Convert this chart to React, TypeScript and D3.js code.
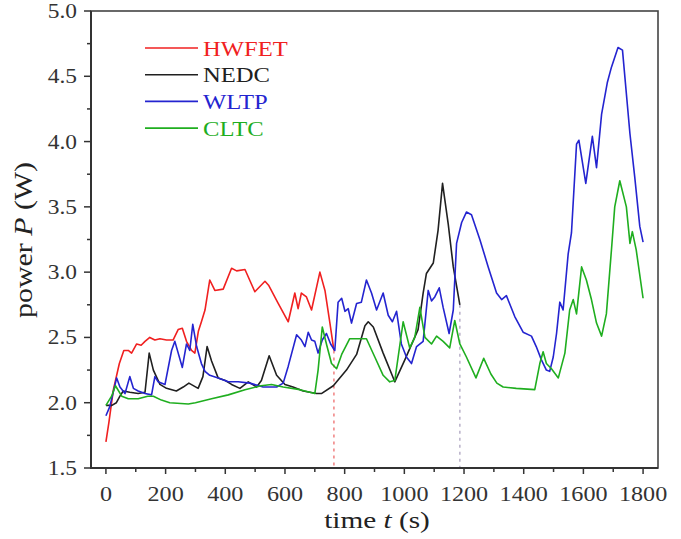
import React from "react";
import * as d3 from "d3";

type Pt = [number, number];

const hwfet: Pt[] = [[0,1.70],[10,1.85],[25,2.1],[45,2.3],[60,2.4],[75,2.40],[86,2.38],[103,2.45],[118,2.44],[131,2.47],[147,2.50],[164,2.48],[181,2.49],[203,2.48],[225,2.48],[242,2.56],[256,2.57],[270,2.47],[287,2.40],[298,2.38],[310,2.55],[320,2.62],[332,2.71],[348,2.94],[365,2.86],[393,2.87],[421,3.03],[438,3.01],[466,3.02],[499,2.85],[533,2.93],[545,2.90],[575,2.77],[611,2.62],[633,2.84],[644,2.72],[655,2.84],[672,2.81],[689,2.71],[717,3.00],[734,2.86],[750,2.62],[764,2.40]];

const nedc: Pt[] = [[0,1.98],[20,1.98],[35,2.0],[47,2.05],[58,2.09],[80,2.08],[108,2.07],[131,2.08],[145,2.38],[159,2.25],[181,2.14],[203,2.11],[236,2.09],[259,2.12],[278,2.15],[309,2.11],[325,2.2],[339,2.43],[354,2.32],[376,2.19],[400,2.17],[421,2.14],[449,2.11],[477,2.16],[505,2.12],[521,2.17],[547,2.36],[572,2.21],[600,2.14],[627,2.12],[661,2.09],[706,2.07],[722,2.07],[762,2.13],[806,2.25],[840,2.37],[868,2.59],[879,2.62],[896,2.58],[929,2.38],[968,2.16],[1002,2.33],[1046,2.56],[1063,2.84],[1074,2.99],[1097,3.07],[1113,3.32],[1128,3.68],[1147,3.37],[1164,3.04],[1186,2.75]];

const wltp: Pt[] = [[0,1.90],[13,1.97],[36,2.19],[47,2.12],[64,2.07],[80,2.20],[92,2.11],[108,2.09],[131,2.07],[153,2.06],[164,2.20],[175,2.16],[198,2.14],[220,2.40],[231,2.47],[256,2.27],[270,2.45],[281,2.40],[291,2.60],[304,2.43],[320,2.30],[332,2.24],[348,2.21],[376,2.19],[410,2.16],[443,2.16],[482,2.15],[527,2.12],[572,2.12],[594,2.15],[611,2.28],[639,2.52],[655,2.48],[667,2.43],[678,2.54],[689,2.48],[700,2.47],[711,2.38],[725,2.48],[739,2.53],[753,2.45],[767,2.40],[778,2.77],[790,2.80],[801,2.70],[812,2.72],[823,2.61],[840,2.76],[856,2.77],[873,2.94],[890,2.84],[907,2.71],[929,2.84],[946,2.67],[960,2.62],[974,2.70],[990,2.45],[1007,2.35],[1024,2.30],[1041,2.43],[1063,2.47],[1080,2.86],[1091,2.78],[1102,2.81],[1117,2.88],[1130,2.73],[1150,2.53],[1164,2.71],[1175,3.22],[1192,3.38],[1208,3.46],[1225,3.44],[1253,3.25],[1281,3.04],[1309,2.84],[1326,2.79],[1342,2.82],[1370,2.66],[1398,2.54],[1426,2.51],[1442,2.43],[1459,2.33],[1476,2.25],[1487,2.24],[1499,2.35],[1510,2.53],[1521,2.77],[1532,2.71],[1549,3.14],[1560,3.30],[1577,3.98],[1585,4.01],[1608,3.68],[1630,4.04],[1644,3.80],[1661,4.21],[1680,4.45],[1694,4.57],[1716,4.72],[1731,4.70],[1756,4.06],[1772,3.73],[1789,3.35],[1800,3.23]];

const cltc: Pt[] = [[0,1.98],[19,2.05],[32,2.13],[53,2.05],[75,2.03],[108,2.03],[140,2.05],[159,2.05],[186,2.02],[214,2.0],[276,1.99],[300,2.0],[354,2.03],[410,2.06],[466,2.10],[520,2.13],[555,2.14],[594,2.12],[650,2.10],[700,2.07],[711,2.25],[725,2.58],[740,2.44],[756,2.30],[773,2.26],[790,2.37],[817,2.49],[851,2.49],[873,2.49],[901,2.35],[929,2.21],[951,2.16],[968,2.17],[996,2.62],[1018,2.42],[1035,2.5],[1052,2.73],[1069,2.50],[1091,2.45],[1108,2.51],[1130,2.47],[1152,2.42],[1169,2.63],[1186,2.45],[1208,2.35],[1240,2.19],[1266,2.34],[1290,2.22],[1310,2.15],[1331,2.12],[1375,2.11],[1437,2.10],[1454,2.30],[1465,2.39],[1476,2.30],[1493,2.26],[1516,2.19],[1538,2.38],[1554,2.71],[1566,2.79],[1577,2.68],[1594,3.04],[1610,2.94],[1627,2.79],[1644,2.61],[1661,2.51],[1677,2.68],[1694,3.17],[1705,3.50],[1722,3.70],[1744,3.50],[1756,3.22],[1764,3.31],[1777,3.17],[1800,2.80]];

const seriesNames = ["HWFET", "NEDC", "WLTP", "CLTC"];
const seriesData = [hwfet, nedc, wltp, cltc];
const seriesColors = ["#f02020", "#202020", "#2424d0", "#1fae1f"];

const xTicks = [0, 200, 400, 600, 800, 1000, 1200, 1400, 1600, 1800];
const xMinor = [100, 300, 500, 700, 900, 1100, 1300, 1500, 1700];
const yTicks = [1.5, 2.0, 2.5, 3.0, 3.5, 4.0, 4.5, 5.0];
const yMinor = [1.75, 2.25, 2.75, 3.25, 3.75, 4.25, 4.75];

const W = 681, H = 539;
const L = 91, R = 658, T = 11, B = 468;
const FONT = "'Liberation Serif', 'Times New Roman', serif";

export default function App() {
  const x = d3.scaleLinear().domain([-50, 1850]).range([L, R]);
  const y = d3.scaleLinear().domain([1.5, 5.0]).range([B, T]);
  const line = d3.line<Pt>().x((d) => x(d[0])).y((d) => y(d[1]));

  const markers = [
    { s: hwfet, color: "#f08080" },
    { s: nedc, color: "#b8b0c8" },
  ];

  return (
    <svg width={W} height={H} style={{ position: "absolute", left: 0, top: 0, background: "#fff" }}>
      <rect x={0} y={0} width={W} height={H} fill="#fff" />
      {markers.map((m, i) => {
        const last = m.s[m.s.length - 1];
        return (
          <line key={i} x1={x(last[0])} x2={x(last[0])} y1={y(last[1])} y2={B}
            stroke={m.color} strokeWidth={1.5} strokeDasharray="3,4" />
        );
      })}
      {seriesData.map((s, i) => (
        <path key={i} d={line(s) || ""} fill="none" stroke={seriesColors[i]} strokeWidth={1.6} strokeLinejoin="round" />
      ))}
      <rect x={L} y={T} width={R - L} height={B - T} fill="none" stroke="#444" strokeWidth={1.6} />
      <line x1={L} x2={L} y1={T} y2={B + 1} stroke="#333" strokeWidth={2} />
      <line x1={L - 1} x2={R} y1={B} y2={B} stroke="#333" strokeWidth={2} />
      {xTicks.map((t) => (
        <g key={"xt" + t}>
          <line x1={x(t)} x2={x(t)} y1={B} y2={B + 6} stroke="#333" strokeWidth={1.5} />
          <text transform={`translate(${x(t)},501) scale(1.15,1)`} textAnchor="middle" fontFamily={FONT} fontSize={21} fill="#333">{t}</text>
        </g>
      ))}
      {xMinor.map((t) => (
        <line key={"xm" + t} x1={x(t)} x2={x(t)} y1={B} y2={B + 4} stroke="#333" strokeWidth={1.5} />
      ))}
      {yTicks.map((v) => (
        <g key={"yt" + v}>
          <line x1={L - 7} x2={L} y1={y(v)} y2={y(v)} stroke="#333" strokeWidth={1.5} />
          <text transform={`translate(77,${y(v) + 7}) scale(1.17,1)`} textAnchor="end" fontFamily={FONT} fontSize={20} fill="#333">{v.toFixed(1)}</text>
        </g>
      ))}
      {yMinor.map((v) => (
        <line key={"ym" + v} x1={L - 4} x2={L} y1={y(v)} y2={y(v)} stroke="#333" strokeWidth={1.5} />
      ))}
      <text transform="translate(377,528) scale(1.22,1)" textAnchor="middle" fontFamily={FONT} fontSize={24} fill="#222">
        time <tspan fontStyle="italic">t</tspan> (s)
      </text>
      <text transform="translate(32,240) rotate(-90) scale(1.15,1)" textAnchor="middle" fontFamily={FONT} fontSize={26} fill="#222">
        power <tspan fontStyle="italic">P</tspan> (W)
      </text>
      {seriesNames.map((n, i) => {
        const ly = 48 + i * 26.7;
        return (
          <g key={n}>
            <line x1={145} x2={198} y1={ly} y2={ly} stroke={seriesColors[i]} strokeWidth={1.6} />
            <text transform={`translate(203,${ly + 7.5}) scale(1.12,1)`} fontFamily={FONT} fontSize={22} fill={seriesColors[i]}>{n}</text>
          </g>
        );
      })}
    </svg>
  );
}
